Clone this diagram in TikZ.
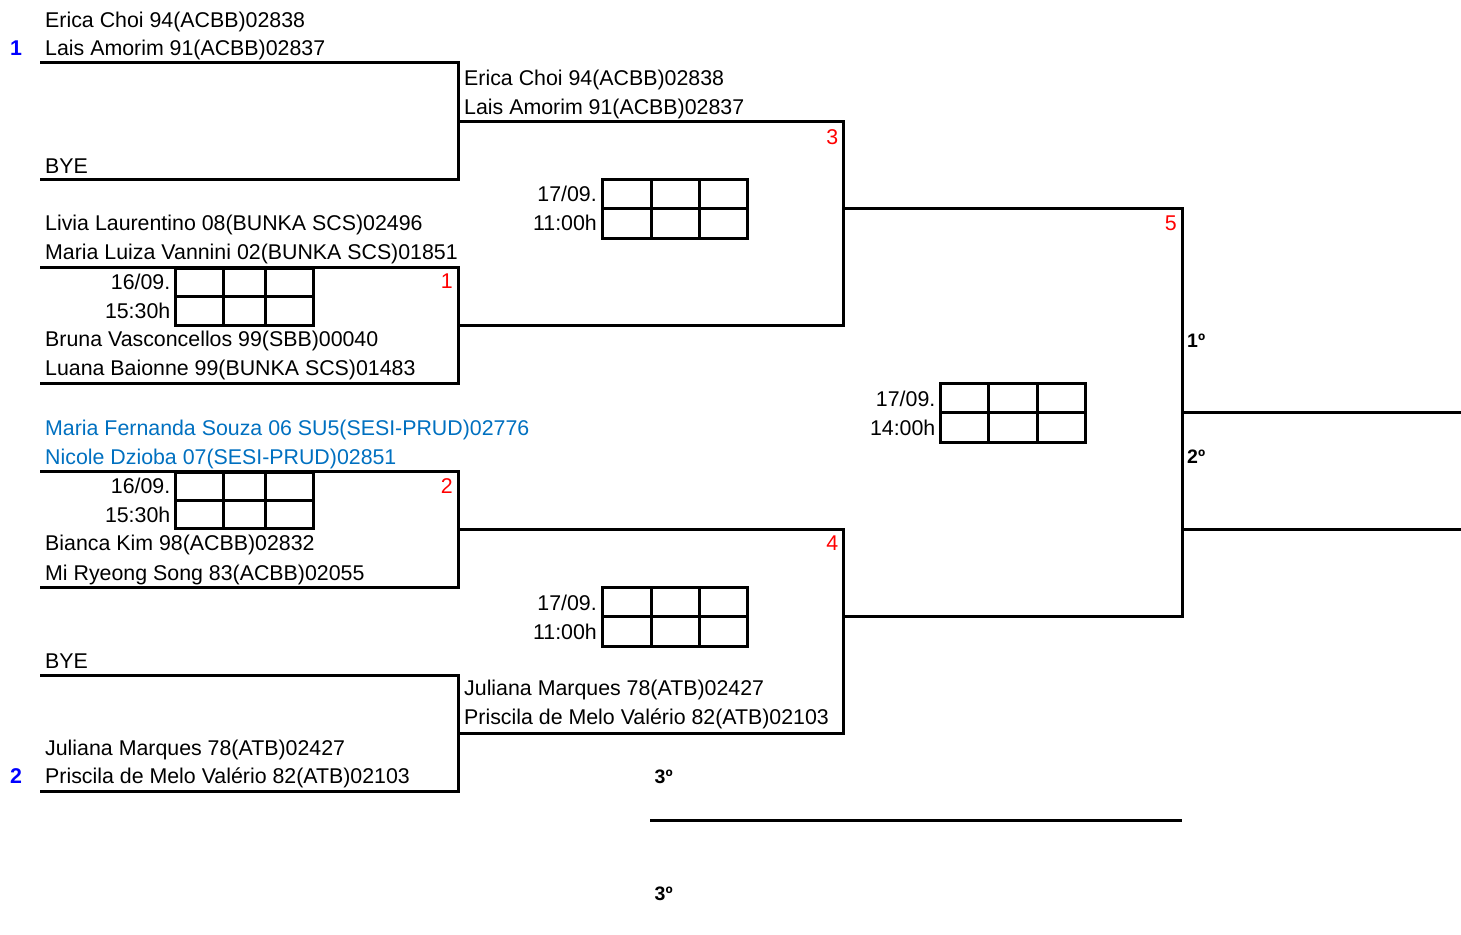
\documentclass[tikz,border=0pt]{standalone}
\usepackage{fontspec}
\setmainfont{Liberation Sans}
\definecolor{seedblue}{RGB}{0,0,255}
\definecolor{teamblue}{RGB}{0,112,192}
\definecolor{numred}{RGB}{255,0,0}
\tikzset{
  br/.style={line width=3pt, line join=miter},
  grd/.style={line width=3pt, line join=miter},
  txt/.style={inner sep=0pt, anchor=base west, font=\fontsize{21.35}{25}\selectfont},
  rtxt/.style={inner sep=0pt, anchor=base east, font=\fontsize{21.35}{25}\selectfont},
  red/.style={rtxt, text=numred},
  seed/.style={inner sep=0pt, anchor=base west, font=\fontsize{21.35}{25}\selectfont\bfseries, text=seedblue},
  place/.style={inner sep=0pt, anchor=base west, font=\fontsize{19.5}{23}\selectfont\bfseries},
}
\newcommand{\sgrid}[7]{%
  \draw[grd] (#1,#5) rectangle (#4,#7);
  \draw[grd] (#2,#5)--(#2,#7) (#3,#5)--(#3,#7) (#1,#6)--(#4,#6);}
\begin{document}
\begin{tikzpicture}[x=1pt,y=-1pt]
\useasboundingbox (0,0) rectangle (1461,934);
% brackets
\draw[br] (40,63) -- (458,63) -- (458,179) -- (40,179);
\draw[br] (40,267) -- (458,267) -- (458,383) -- (40,383);
\draw[br] (40,471) -- (458,471) -- (458,587) -- (40,587);
\draw[br] (40,675) -- (458,675) -- (458,791) -- (40,791);
\draw[br] (458,121) -- (843,121) -- (843,325) -- (458,325);
\draw[br] (458,529) -- (843,529) -- (843,733) -- (458,733);
\draw[br] (843,208) -- (1182,208) -- (1182,616) -- (843,616);
\draw[br] (1182,412) -- (1461,412);
\draw[br] (1182,529) -- (1461,529);
\draw[br] (650,820.5) -- (1182,820.5);
% score grids
\sgrid{175}{223}{265.5}{313}{268}{296.5}{325}
\sgrid{175}{223}{265.5}{313}{472}{500}{528.5}
\sgrid{602}{651}{699}{747}{179.5}{208}{238}
\sgrid{602}{651}{699}{747}{587.5}{616.5}{646}
\sgrid{940.5}{988.5}{1037.5}{1085.5}{383}{412}{442}
% seeds
\node[seed] (s1) at (10,56) {1};
\node[seed] (s2) at (10,783.3) {2};
% round 1 texts
\node[txt] (a1) at (45,27.3) {Erica Choi 94(ACBB)02838};
\node[txt] (a2) at (45,56) {Lais Amorim 91(ACBB)02837};
\node[txt] (a3) at (45,173) {BYE};
\node[txt] (b1) at (45,230.7) {Livia Laurentino 08(BUNKA SCS)02496};
\node[txt] (b2) at (45,259.3) {Maria Luiza Vannini 02(BUNKA SCS)01851};
\node[rtxt] (d1) at (170.5,289) {16/09.};
\node[rtxt] (h1) at (170.5,318.3) {15:30h};
\node[red] (n1) at (453,288.3) {1};
\node[txt] (b3) at (45,346.7) {Bruna Vasconcellos 99(SBB)00040};
\node[txt] (b4) at (45,375) {Luana Baionne 99(BUNKA SCS)01483};
\node[txt,text=teamblue] (c1) at (45,435) {Maria Fernanda Souza 06 SU5(SESI-PRUD)02776};
\node[txt,text=teamblue] (c2) at (45,464) {Nicole Dzioba 07(SESI-PRUD)02851};
\node[rtxt] (d2) at (170.5,493.3) {16/09.};
\node[rtxt] (h2) at (170.5,522.3) {15:30h};
\node[red] (n2) at (453,493.3) {2};
\node[txt] (c3) at (45,550.7) {Bianca Kim 98(ACBB)02832};
\node[txt] (c4) at (45,580) {Mi Ryeong Song 83(ACBB)02055};
\node[txt] (e1) at (45,668.3) {BYE};
\node[txt] (e2) at (45,755) {Juliana Marques 78(ATB)02427};
\node[txt] (e3) at (45,783.3) {Priscila de Melo Valério 82(ATB)02103};
% round 2 texts
\node[txt] (f1) at (464,85) {Erica Choi 94(ACBB)02838};
\node[txt] (f2) at (464,114) {Lais Amorim 91(ACBB)02837};
\node[red] (n3) at (838.5,144) {3};
\node[rtxt] (d3) at (597,201.7) {17/09.};
\node[rtxt] (h3) at (597,230.7) {11:00h};
\node[red] (n4) at (838.5,550.7) {4};
\node[rtxt] (d4) at (597,610) {17/09.};
\node[rtxt] (h4) at (597,639) {11:00h};
\node[txt] (g1) at (464,695) {Juliana Marques 78(ATB)02427};
\node[txt] (g2) at (464,724) {Priscila de Melo Valério 82(ATB)02103};
% final
\node[red] (n5) at (1177,230.7) {5};
\node[rtxt] (d5) at (935.5,406) {17/09.};
\node[rtxt] (h5) at (935.5,435) {14:00h};
\node[place] (p1) at (1187,347.3) {1º};
\node[place] (p2) at (1187,463.3) {2º};
\node[place] (p3) at (654.5,783.3) {3º};
\node[place] (p4) at (654.5,900) {3º};
\end{tikzpicture}
\end{document}
